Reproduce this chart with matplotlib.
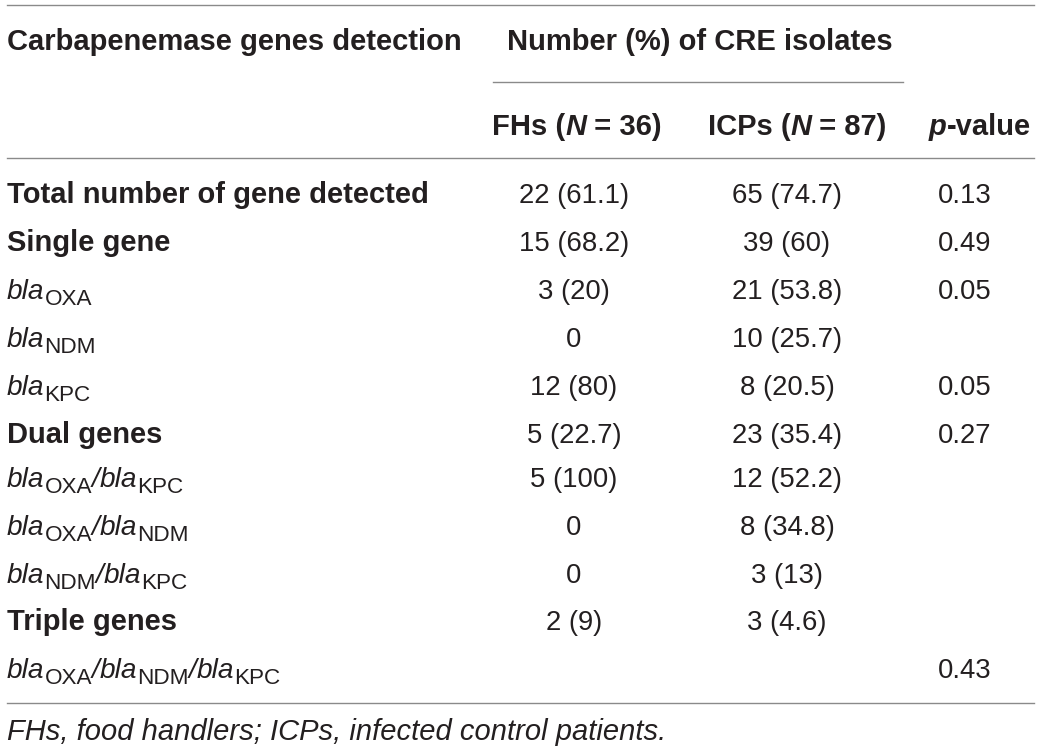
import matplotlib
matplotlib.use("Agg")
import matplotlib.pyplot as plt

plt.rcParams['font.family'] = ['Liberation Sans', 'DejaVu Sans']

# table content
row_labels = ['Total number of gene detected', 'Single gene', 'OXA', 'NDM', 'KPC',
              'Dual genes', 'OXA/KPC', 'OXA/NDM', 'NDM/KPC', 'Triple genes', 'OXA/NDM/KPC']
row_bold = [True, True, False, False, False, True, False, False, False, True, False]
fh_values = ['22 (61.1)', '15 (68.2)', '3 (20)', '0', '12 (80)', '5 (22.7)',
             '5 (100)', '0', '0', '2 (9)', '']
icp_values = ['65 (74.7)', '39 (60)', '21 (53.8)', '10 (25.7)', '8 (20.5)', '23 (35.4)',
              '12 (52.2)', '8 (34.8)', '3 (13)', '3 (4.6)', '']
p_values = ['0.13', '0.49', '0.05', '', '0.05', '0.27', '', '', '', '', '0.43']
footnote = 'FHs, food handlers; ICPs, infected control patients.'

FS = 21
NUM_FS = 19.8
GENE_FS = 20.2
TXT = '#231f20'
LINE = '#8a8a8a'

fig = plt.figure(figsize=(10.4, 7.51), dpi=100)
ax = fig.add_axes([0, 0, 1, 1])
ax.set_xlim(0, 1040)
ax.set_ylim(751, 0)
ax.axis('off')
renderer = fig.canvas.get_renderer()


def runs(x, y, parts, ha='left', size=FS):
    # draw pieces of text one after another on a common baseline
    objs = []
    total = 0
    for s, style in parts:
        kw = dict(fontsize=size, va='baseline', ha='left', color=TXT)
        dy = 0
        if style == 'sub':
            kw['fontsize'] = size * 0.8
            dy = 6
        else:
            if 'b' in style:
                kw['fontweight'] = 'bold'
            if 'i' in style:
                kw['fontstyle'] = 'italic'
        t = ax.text(0, y + dy, s, **kw)
        w = t.get_window_extent(renderer).width
        objs.append((t, w))
        total += w
    start = x if ha == 'left' else x - total / 2
    for t, w in objs:
        t.set_x(start)
        start += w


def gene_parts(label):
    parts = []
    for k, g in enumerate(label.split('/')):
        if k > 0:
            parts.append(('/', 'i'))
        parts.append(('bla', 'i'))
        parts.append((g, 'sub'))
    return parts


# rules
ax.plot([7, 1034], [5, 5], color=LINE, lw=1.0)
ax.plot([493, 903], [82, 82], color=LINE, lw=1.0)
ax.plot([7, 1034], [158, 158], color=LINE, lw=1.0)
ax.plot([7, 1034], [703, 703], color=LINE, lw=1.0)

# header
runs(7, 50, [('Carbapenemase genes detection', 'b')])
runs(700, 50, [('Number (%) of CRE isolates', 'b')], ha='center')
runs(577, 135, [('FHs (', 'b'), ('N', 'bi'), (' = 36)', 'b')], ha='center')
runs(797, 135, [('ICPs (', 'b'), ('N', 'bi'), (' = 87)', 'b')], ha='center')
runs(980, 135, [('p', 'bi'), ('-value', 'b')], ha='center')

# body
baselines = [203, 251, 299, 347, 395, 443, 487, 535, 583, 630, 678]
for i, lab in enumerate(row_labels):
    yb = baselines[i]
    if row_bold[i]:
        runs(7, yb, [(lab, 'b')])
    else:
        runs(7, yb, gene_parts(lab), size=GENE_FS)
    if fh_values[i]:
        runs(574, yb, [(fh_values[i], '')], ha='center', size=NUM_FS)
    if icp_values[i]:
        runs(787, yb, [(icp_values[i], '')], ha='center', size=NUM_FS)
    if p_values[i]:
        runs(965, yb, [(p_values[i], '')], ha='center', size=NUM_FS)

runs(7, 740, [(footnote, 'i')])

fig.savefig('out.png', dpi=100)
